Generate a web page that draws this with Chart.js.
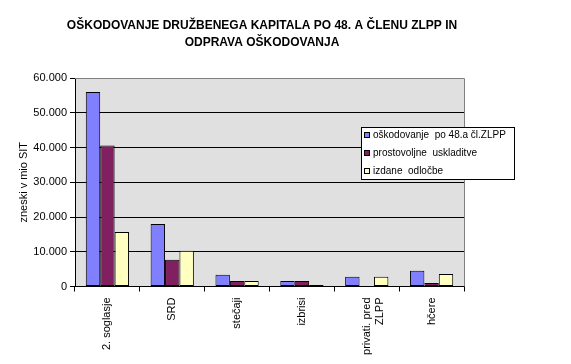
<!DOCTYPE html>
<html lang="sl">
<head>
  <meta charset="UTF-8">
  <title>Oškodovanje družbenega kapitala</title>
  <script src="https://cdn.jsdelivr.net/npm/chart.js"></script>
  <style>
    html, body { margin: 0; padding: 0; background: #fff; }
    #wrap { width: 571px; height: 364px; position: relative; }
  </style>
</head>
<body>
  <div id="wrap"><canvas id="chart"></canvas></div>

  <script>
    // data (mio SIT)
    const categories = ['2. soglasje', 'SRD', 'stečaji', 'izbrisi', ['privati. pred', 'ZLPP'], 'hčere'];
    const skodovanje = [56000, 18000, 3400, 1600, 2800, 4500];
    const prostovoljne = [40600, 7700, 1600, 1600, 0, 1000];
    const odlocbe = [15700, 10300, 1600, 400, 2800, 3600];
    const seriesNames = ['oškodovanje  po 48.a čl.ZLPP', 'prostovoljne  uskladitve', 'izdane  odločbe'];
    const seriesColors = ['#8080ff', '#802060', '#ffffc0'];
    const titleLines = ['OŠKODOVANJE DRUŽBENEGA KAPITALA PO 48. A ČLENU ZLPP IN', 'ODPRAVA OŠKODOVANJA'];

    const FONT = 'Arial, "Liberation Sans", sans-serif';
    Chart.defaults.font.family = FONT;
    Chart.defaults.color = '#000';

    // grey plot background + grey top/right frame
    const plotFrame = {
      id: 'plotFrame',
      beforeDraw(chart) {
        const { ctx, chartArea: a } = chart;
        ctx.save();
        ctx.fillStyle = '#e0e0e0';
        ctx.fillRect(a.left, a.top, a.right - a.left, a.bottom - a.top);
        ctx.restore();
      },
      afterDatasetsDraw(chart) {
        const { ctx, chartArea: a } = chart;
        ctx.save();
        ctx.strokeStyle = '#808080';
        ctx.lineWidth = 1;
        ctx.beginPath();
        ctx.moveTo(a.left, Math.round(a.top) + 0.5);
        ctx.lineTo(Math.round(a.right) + 0.5, Math.round(a.top) + 0.5);
        ctx.lineTo(Math.round(a.right) + 0.5, a.bottom);
        ctx.stroke();
        ctx.restore();
      }
    };

    // boxed legend sitting over the right part of the plot
    const boxLegend = {
      id: 'boxLegend',
      afterDraw(chart) {
        const { ctx } = chart;
        const x = 361, y = 127, w = 153, h = 52;
        ctx.save();
        ctx.fillStyle = '#fff';
        ctx.fillRect(x, y, w, h);
        ctx.strokeStyle = '#000';
        ctx.lineWidth = 1;
        ctx.strokeRect(x + 0.5, y + 0.5, w, h);
        ctx.font = '10px ' + FONT;
        ctx.textBaseline = 'middle';
        chart.data.datasets.forEach((ds, i) => {
          const cy = y + 8 + i * 18;
          ctx.fillStyle = ds.backgroundColor;
          ctx.fillRect(x + 3, cy - 3, 6, 6);
          ctx.strokeRect(x + 3.5, cy - 2.5, 5, 5);
          ctx.fillStyle = '#000';
          ctx.fillText(ds.label, x + 12, cy);
        });
        ctx.restore();
      }
    };

    const makeSet = (label, data, color) => ({
      label, data,
      backgroundColor: color,
      borderColor: '#000',
      borderWidth: 1,
      borderSkipped: false,
      categoryPercentage: 0.667,
      barPercentage: 1
    });

    new Chart(document.getElementById('chart'), {
      type: 'bar',
      data: {
        labels: categories,
        datasets: [
          makeSet(seriesNames[0], skodovanje, seriesColors[0]),
          makeSet(seriesNames[1], prostovoljne, seriesColors[1]),
          makeSet(seriesNames[2], odlocbe, seriesColors[2])
        ]
      },
      options: {
        responsive: true,
        maintainAspectRatio: false,
        animation: false,
        layout: { padding: { left: 0, right: 47, top: 0, bottom: 0 } },
        plugins: {
          legend: { display: false },
          tooltip: { enabled: false },
          title: {
            display: true,
            text: titleLines,
            color: '#000',
            font: { size: 12, weight: 'bold', lineHeight: 1.417 },
            padding: { top: 17.5, bottom: 26.5 }
          }
        },
        scales: {
          x: {
            afterFit(s) { s.height = 77.5; },
            grid: { drawOnChartArea: false, drawTicks: true, tickLength: 5, color: '#000', offset: true },
            border: { color: '#000' },
            ticks: { minRotation: 90, maxRotation: 90, autoSkip: false, font: { size: 11 }, padding: 6 }
          },
          y: {
            min: 0, max: 60000,
            afterFit(s) { s.width = 75; },
            grid: { color: '#000', tickLength: 5 },
            border: { color: '#000' },
            ticks: {
              stepSize: 10000,
              font: { size: 11 },
              padding: 3,
              callback: v => v === 0 ? '0' : (v / 1000) + '.000'
            },
            title: { display: true, text: 'zneski v mio SIT', font: { size: 11 }, padding: { top: 17, bottom: 0 } }
          },
          // empty right-hand strip so the plot ends where the reference's does
          yRight: {
            position: 'right',
            min: 0, max: 60000,
            afterFit(s) { s.width = 60; },
            grid: { display: false },
            border: { display: false },
            ticks: { display: false }
          }
        }
      },
      plugins: [plotFrame, boxLegend]
    });
  </script>
</body>
</html>
